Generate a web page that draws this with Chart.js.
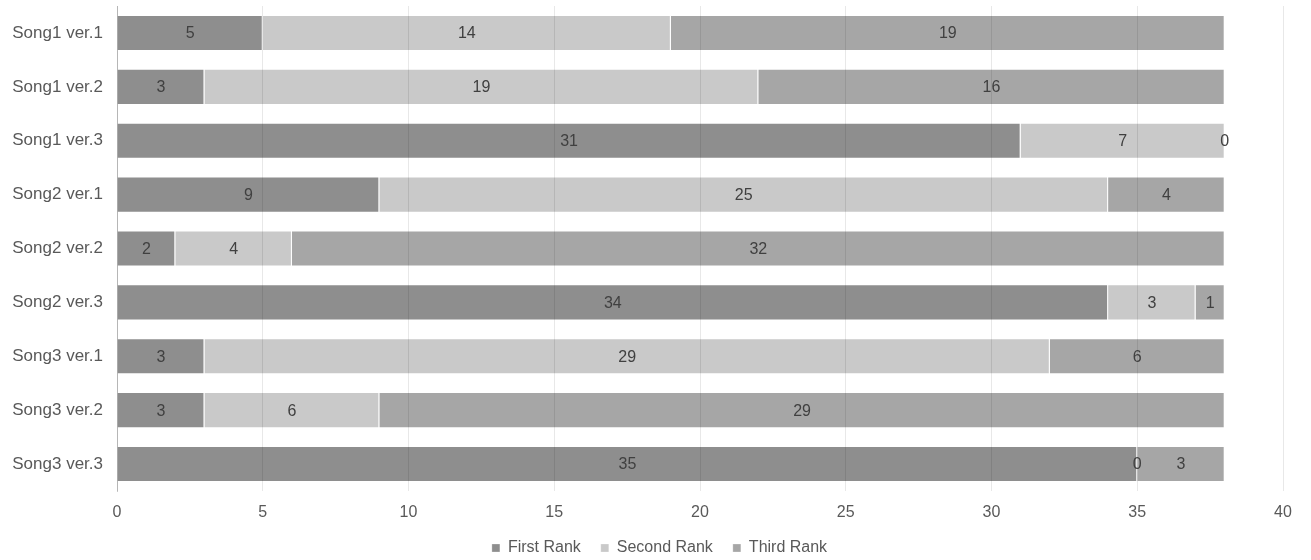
<!DOCTYPE html>
<html>
<head>
<meta charset="utf-8">
<script src="https://cdn.jsdelivr.net/npm/chart.js@4"></script>
<style>
  html, body { margin: 0; padding: 0; background: #fff; }
  #wrap { width: 1311px; height: 560px; }
</style>
</head>
<body>
<div id="wrap"><canvas id="rankChart" width="1311" height="560"></canvas></div>
<script>
// categories and series
const songs = ["Song1 ver.1", "Song1 ver.2", "Song1 ver.3", "Song2 ver.1", "Song2 ver.2",
  "Song2 ver.3", "Song3 ver.1", "Song3 ver.2", "Song3 ver.3"];
const firstRank = [5, 3, 31, 9, 2, 34, 3, 3, 35];
const secondRank = [14, 19, 7, 25, 4, 3, 29, 6, 0];
const thirdRank = [19, 16, 0, 4, 32, 1, 6, 29, 3];
const seriesNames = ["First Rank", "Second Rank", "Third Rank"];

const FONT = "'Liberation Sans', Arial, sans-serif";

// draw the value in the middle of every bar segment
const barLabels = {
  id: "barLabels",
  afterDraw(chart) {
    const ctx = chart.ctx;
    ctx.save();
    ctx.font = "16px " + FONT;
    ctx.fillStyle = "#404040";
    ctx.textAlign = "center";
    ctx.textBaseline = "middle";
    chart.data.datasets.forEach((ds, i) => {
      const meta = chart.getDatasetMeta(i);
      meta.data.forEach((bar, j) => {
        const p = bar.getProps(["x", "y", "base"], true);
        ctx.fillText(ds.data[j], (p.x + p.base) / 2, p.y + 1);
      });
    });
    ctx.restore();
  }
};

// legend sits a little right of the canvas centre in the original
const legendShift = {
  id: "legendShift",
  afterLayout(chart) {
    chart.legend.left += 14;
    chart.legend.right += 14;
  }
};

const ctx = document.getElementById("rankChart");

new Chart(ctx, {
  type: "bar",
  data: {
    labels: songs,
    datasets: [
      { label: seriesNames[0], data: firstRank, backgroundColor: "#8e8e8e" },
      { label: seriesNames[1], data: secondRank, backgroundColor: "#c9c9c9" },
      { label: seriesNames[2], data: thirdRank, backgroundColor: "#a6a6a6" },
    ],
  },
  options: {
    indexAxis: "y",
    responsive: false,
    animation: false,
    layout: { padding: { left: 8, right: 28, top: 6, bottom: -6 } },
    datasets: {
      bar: {
        categoryPercentage: 1, barPercentage: 0.67,
        borderWidth: 1, borderColor: "rgba(255,255,255,0.25)"
      }
    },
    scales: {
      x: {
        stacked: true,
        min: 0,
        max: 40,
        ticks: { stepSize: 5, color: "#595959", font: { family: FONT, size: 16 }, padding: 12 },
        grid: { color: "rgba(0,0,0,0.09)", drawTicks: false, z: 1 },
        border: { display: false },
        afterFit(scale) { scale.height = 29; }
      },
      y: {
        stacked: true,
        ticks: { color: "#595959", font: { family: FONT, size: 17 }, padding: 6 },
        grid: { display: false },
        border: { display: true, color: "#c8c8c8" },
        afterFit(scale) {
          scale.width = 109;
          scale.paddingTop = 0;
          scale.paddingBottom = 0;
        }
      },
    },
    plugins: {
      legend: {
        position: "bottom",
        labels: {
          color: "#595959",
          font: { family: FONT, size: 16 },
          usePointStyle: true,
          pointStyle: "rect",
          boxWidth: 8,
          boxHeight: 8,
          padding: 20,
        },
      },
      tooltip: { enabled: false },
    },
  },
  plugins: [barLabels, legendShift],
});
</script>
</body>
</html>
